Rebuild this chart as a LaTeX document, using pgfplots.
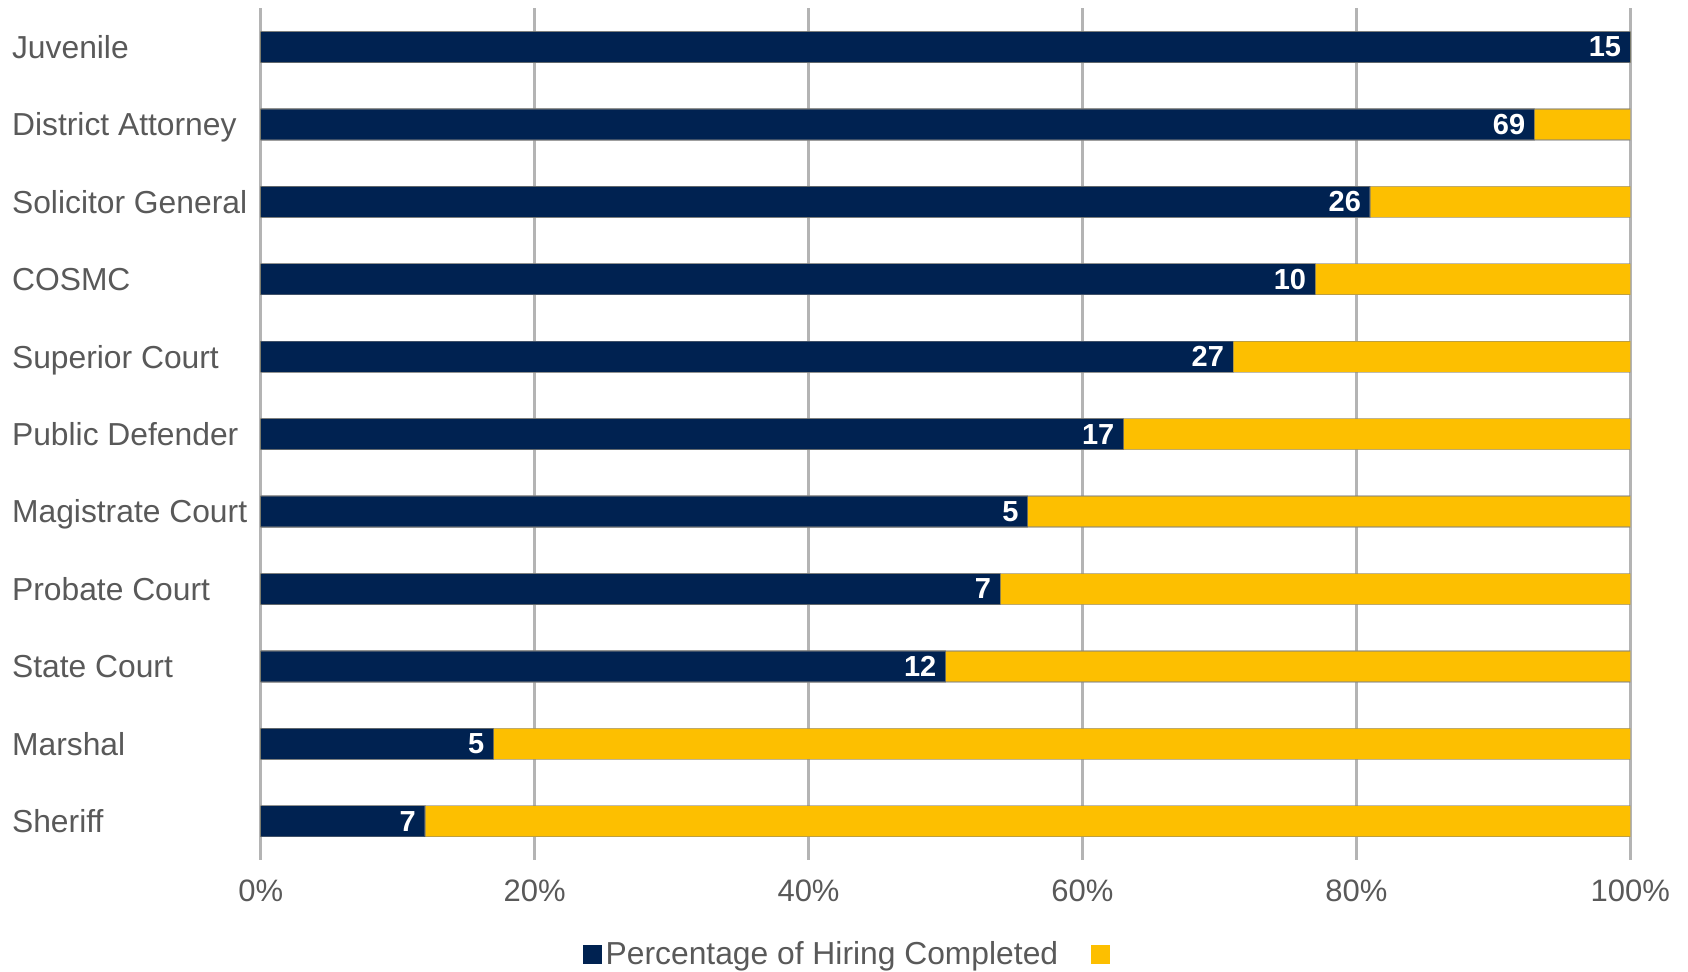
\documentclass[border=0pt]{standalone}
\usepackage{fontspec}
\setmainfont{Liberation Sans}
\usepackage{pgfplots}
\usepackage{pgfplotstable}
\pgfplotsset{compat=1.18}
\definecolor{navy}{RGB}{0,34,81}
\definecolor{gold}{RGB}{253,191,0}
\definecolor{txt}{RGB}{89,89,89}
\definecolor{gridc}{RGB}{180,180,180}
\pgfplotstableread{
idx done total n
0 100 100 15
1 93 100 69
2 81 100 26
3 77 100 10
4 71 100 27
5 63 100 17
6 56 100 5
7 54 100 7
8 50 100 12
9 17 100 5
10 12 100 7
}\datatable
\begin{document}
\begin{tikzpicture}
\path[use as bounding box] (0,0) rectangle (844pt,485.5pt);
\begin{axis}[
  at={(130.35pt,55.5pt)}, anchor=south west,
  scale only axis, width=684.8pt, height=425.85pt,
  xbar, bar width=15.5pt, bar shift=0pt,
  xmin=0, xmax=100, ymin=-0.5, ymax=10.5, y dir=reverse,
  enlargelimits=false,
  xtick={0,20,40,60,80,100},
  xticklabel={\pgfmathprintnumber{\tick}\%},
  ytick={0,1,2,3,4,5,6,7,8,9,10},
  yticklabels={Juvenile, District Attorney, Solicitor General, COSMC, Superior Court, Public Defender, Magistrate Court, Probate Court, State Court, Marshal, Sheriff},
  xmajorgrids, ymajorgrids=false,
  major grid style={draw=gridc, line width=1.3pt},
  axis line style={draw=none}, major tick length=0pt,
  /pgf/number format/assume math mode=true,
  tick label style={text=txt},
  xticklabel style={font=\fontsize{15.5}{18}\selectfont, anchor=center, yshift=-15.5pt},
  yticklabel style={font=\fontsize{15.9}{18}\selectfont, anchor=base west, xshift=-124.5pt, yshift=-5.7pt, inner sep=0pt},
  reverse legend,
  legend style={at={(0.4306,-0.1115)}, anchor=center, draw=none, fill=none,
    legend columns=-1, font=\fontsize{15.9}{18}\selectfont, text=txt,
    /tikz/every even column/.append style={column sep=14.5pt}},
  legend image code/.code={\fill[#1,draw=none] (0pt,-4.75pt) rectangle (9.5pt,4.75pt);},
]
\addplot[fill=gold, draw=black!50, draw opacity=0.5, line width=0.6pt]
  table[x=total, y=idx] {\datatable};
\addlegendentry{}
\addplot[fill=navy, draw=black!50, draw opacity=0.5, line width=0.6pt,
  nodes near coords={\pgfplotspointmeta}, point meta=explicit symbolic,
  every node near coord/.append style={font=\bfseries\fontsize{14.5}{16}\selectfont, text=white, anchor=east, xshift=-4.3pt, inner sep=0pt}]
  table[x=done, y=idx, meta=n] {\datatable};
\addlegendentry{Percentage of Hiring Completed}
\end{axis}
\end{tikzpicture}
\end{document}
